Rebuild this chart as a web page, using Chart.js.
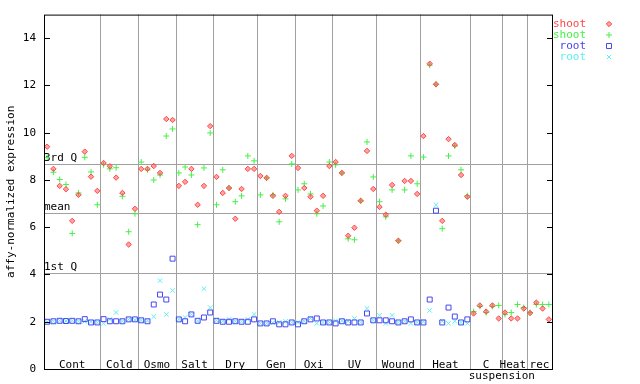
<!DOCTYPE html>
<html>
<head>
<meta charset="utf-8">
<script src="https://cdn.jsdelivr.net/npm/chart.js@4"></script>
<style>
html, body { margin: 0; padding: 0; background: #fff; }
#wrap { width: 640px; height: 384px; }
</style>
</head>
<body>
<div id="wrap"><canvas id="chart" width="640" height="384"></canvas></div>
<script>
// sample groups along the x axis
const groups = ["Cont", "Cold", "Osmo", "Salt", "Dry", "Gen", "Oxi", "UV", "Wound", "Heat", "C", "Heat", "rec"];
const groupSizes = [9, 6, 6, 6, 7, 6, 6, 7, 7, 8, 5, 4, 4];

// values, one per sample position
const shootRed = [
    9.41, 8.47, 7.75, 7.61, 6.27, 7.37, 9.20, 8.14, 7.54,
    8.72, 8.58, 8.10, 7.45, 5.27, 6.78,
    8.47, 8.47, 8.59, 8.30, 10.58, 10.54,
    7.75, 7.92, 8.47, 6.95, 7.75, 10.28,
    8.13, 7.45, 7.66, 6.36, 7.62, 8.47, 8.47,
    8.17, 8.09, 7.33, 6.65, 7.33, 9.02,
    8.51, 7.66, 7.29, 6.70, 7.33, 8.59,
    8.76, 8.30, 5.64, 5.98, 7.12, 9.23, 7.62,
    6.86, 6.53, 7.79, 5.43, 7.96, 7.96, 7.41,
    9.86, 12.92, 12.05, 6.27, 9.73, 9.48, 8.21, 7.29,
    2.35, 2.69, 2.43, 2.69, 2.14,
    2.39, 2.14, 2.14, 2.56,
    2.37, 2.81, 2.56, 2.10
];
const shootGreen = [
    8.96, 8.33, 8.02, 7.81, 5.74, 7.45, 8.96, 8.34, 6.95,
    8.65, 8.47, 8.52, 7.31, 5.81, 6.57,
    8.76, 8.43, 8.00, 8.21, 9.86, 10.16,
    8.30, 8.55, 8.21, 6.11, 8.51, 9.99,
    6.95, 8.43, 7.66, 7.08, 7.33, 9.02, 8.81,
    7.37, 8.09, 7.37, 6.23, 7.20, 8.68,
    7.58, 7.84, 7.41, 6.57, 6.90, 8.76,
    8.64, 8.30, 5.51, 5.47, 7.12, 9.61, 8.13,
    7.08, 6.44, 7.58, 5.43, 7.58, 9.02, 7.84,
    8.97, 12.86, 12.05, 5.94, 9.02, 9.44, 8.43, 7.33,
    2.43, 2.65, 2.39, 2.65, 2.69,
    2.31, 2.39, 2.73, 2.60,
    2.39, 2.73, 2.73, 2.73
];
const rootBlue = [
    2.00, 2.02, 2.04, 2.03, 2.04, 2.02, 2.11, 1.97, 1.97,
    2.11, 2.02, 2.02, 2.02, 2.10, 2.10,
    2.06, 2.02, 2.73, 3.15, 2.94, 4.67,
    2.10, 2.02, 2.31, 2.04, 2.18, 2.39,
    2.04, 2.00, 2.00, 2.02, 2.00, 2.00, 2.10,
    1.93, 1.93, 2.02, 1.89, 1.89, 1.97,
    1.89, 2.02, 2.10, 2.14, 1.97, 1.97,
    1.93, 2.02, 1.97, 1.97, 1.97, 2.35, 2.06,
    2.06, 2.06, 2.02, 1.97, 2.02, 2.10, 1.97,
    1.97, 2.94, 6.70, 1.97, 2.60, 2.22, 1.97, 2.10
];
const rootCyan = [
    2.00, 2.02, 2.05, 2.03, 2.05, 2.02, 2.02, 2.00, 1.97,
    1.93, 2.10, 2.39, 2.02, 2.10, 2.08,
    2.06, 2.04, 2.22, 3.74, 2.31, 3.32,
    2.10, 2.18, 2.31, 2.04, 3.40, 2.60,
    2.06, 2.02, 2.10, 2.02, 2.02, 2.10, 2.31,
    1.93, 1.93, 1.96, 1.97, 2.02, 1.97,
    1.97, 2.02, 2.14, 1.93, 1.97, 1.97,
    2.04, 2.04, 2.02, 2.14, 1.97, 2.56, 2.06,
    2.27, 1.93, 2.27, 1.97, 2.02, 1.93, 1.97,
    2.00, 2.48, 6.95, 2.02, 1.93, 2.02, 1.97, 1.93
];

// quartile / mean reference lines
const refValues = [8.68, 6.61, 4.08];
const refLabels = ["3rd Q", "mean", "1st Q"];

const yTicks = [0, 2, 4, 6, 8, 10, 12, 14];

const FONT = '11px "DejaVu Sans Mono", "Liberation Mono", monospace';
const nSamples = groupSizes.reduce((a, b) => a + b, 0);

function points(values) {
    return values.map((v, i) => ({ x: i, y: v }));
}

const decor = {
    id: "decor",
    beforeDatasetsDraw(chart) {
        const { ctx, chartArea: a, scales: { x, y } } = chart;
        ctx.save();
        ctx.strokeStyle = "#a0a0a0";
        ctx.lineWidth = 1;

        // group separators
        let start = 0;
        groupSizes.forEach((n, k) => {
            start += n;
            if (k === groupSizes.length - 1) return;
            const px = Math.round(x.getPixelForValue(start - 0.5)) + 0.5;
            ctx.beginPath();
            ctx.moveTo(px, a.top);
            ctx.lineTo(px, a.bottom);
            ctx.stroke();
        });

        // reference lines + labels
        ctx.font = FONT;
        ctx.fillStyle = "#000";
        ctx.textAlign = "left";
        ctx.textBaseline = "bottom";
        refValues.forEach((v, k) => {
            const py = Math.round(y.getPixelForValue(v)) + 0.5;
            ctx.beginPath();
            ctx.moveTo(a.left, py);
            ctx.lineTo(a.right, py);
            ctx.stroke();
            ctx.fillText(refLabels[k], a.left, py - 0.5);
        });

        // group labels (centred on the group, last two nudged apart a bit)
        ctx.textAlign = "center";
        ctx.textBaseline = "alphabetic";
        start = 0;
        groupSizes.forEach((n, k) => {
            let c = start + n / 2 - 0.5;
            if (k === groupSizes.length - 2) c -= 0.25;
            ctx.fillText(groups[k], x.getPixelForValue(c), a.bottom - 1);
            start += n;
        });
        // second line under "C"
        const cStart = groupSizes.slice(0, 11).reduce((s, v) => s + v, 0);
        ctx.fillText("suspension", x.getPixelForValue(cStart - 0.5), a.bottom + 10);
        ctx.restore();
    },
    afterDatasetsDraw(chart) {
        const { ctx, chartArea: a, scales: { y } } = chart;
        ctx.save();
        ctx.strokeStyle = "#000";
        ctx.lineWidth = 1;
        ctx.strokeRect(a.left + 0.5, a.top + 0.5, a.right - a.left, a.bottom - a.top);

        // inward tick marks on both sides
        yTicks.forEach((v) => {
            const py = Math.round(y.getPixelForValue(v)) + 0.5;
            ctx.beginPath();
            ctx.moveTo(a.left, py);
            ctx.lineTo(a.left + 6, py);
            ctx.moveTo(a.right - 5, py);
            ctx.lineTo(a.right + 1, py);
            ctx.stroke();
        });

        // legend, top right
        ctx.font = FONT;
        ctx.textAlign = "right";
        ctx.textBaseline = "middle";
        chart.data.datasets.forEach((ds, k) => {
            const ly = 24 + 11 * k;
            ctx.fillStyle = ds.borderColor;
            ctx.fillText(ds.label, 586, ly);
            ctx.strokeStyle = ds.borderColor;
            ctx.fillStyle = ds.backgroundColor;
            Chart.helpers.drawPoint(ctx, {
                pointStyle: ds.pointStyle,
                radius: ds.pointRadius,
                rotation: 0,
                borderWidth: 1
            }, 609, ly);
        });
        ctx.restore();
    }
};

Chart.defaults.color = "#000";
Chart.defaults.font.family = '"DejaVu Sans Mono", "Liberation Mono", monospace';
Chart.defaults.font.size = 11;

new Chart(document.getElementById("chart"), {
    type: "scatter",
    data: {
        datasets: [
            {
                label: "shoot",
                data: points(shootRed),
                pointStyle: "rectRot",
                pointRadius: 2.7,
                borderWidth: 1,
                borderColor: "#ff4646",
                backgroundColor: "rgba(255,70,70,0.5)"
            },
            {
                label: "shoot",
                data: points(shootGreen),
                pointStyle: "cross",
                pointRadius: 3,
                borderWidth: 1,
                borderColor: "#46f046",
                backgroundColor: "#46f046"
            },
            {
                label: "root",
                data: points(rootBlue),
                pointStyle: "rect",
                pointRadius: 3.5,
                borderWidth: 1,
                borderColor: "#4646f0",
                backgroundColor: "rgba(0,0,0,0)"
            },
            {
                label: "root",
                data: points(rootCyan),
                pointStyle: "crossRot",
                pointRadius: 3.2,
                borderWidth: 1,
                borderColor: "#5cf0f0",
                backgroundColor: "#5cf0f0"
            }
        ]
    },
    options: {
        responsive: false,
        animation: false,
        events: [],
        layout: { padding: { left: 0, right: 88, top: 13, bottom: 15 } },
        plugins: {
            legend: { display: false },
            tooltip: { enabled: false }
        },
        scales: {
            x: {
                type: "linear",
                display: false,
                min: -0.5,
                max: nSamples - 0.5
            },
            y: {
                min: 0,
                max: 15,
                afterBuildTicks: (scale) => {
                    scale.ticks = yTicks.map((v) => ({ value: v }));
                },
                afterFit: (scale) => {
                    scale.width = 44;
                },
                grid: { display: false, drawTicks: false },
                border: { display: false },
                ticks: { padding: 8, color: "#000" },
                title: {
                    display: true,
                    text: "affy-normalized expression",
                    color: "#000",
                    padding: { top: 5, bottom: 0 }
                }
            }
        }
    },
    plugins: [decor]
});
</script>
</body>
</html>
